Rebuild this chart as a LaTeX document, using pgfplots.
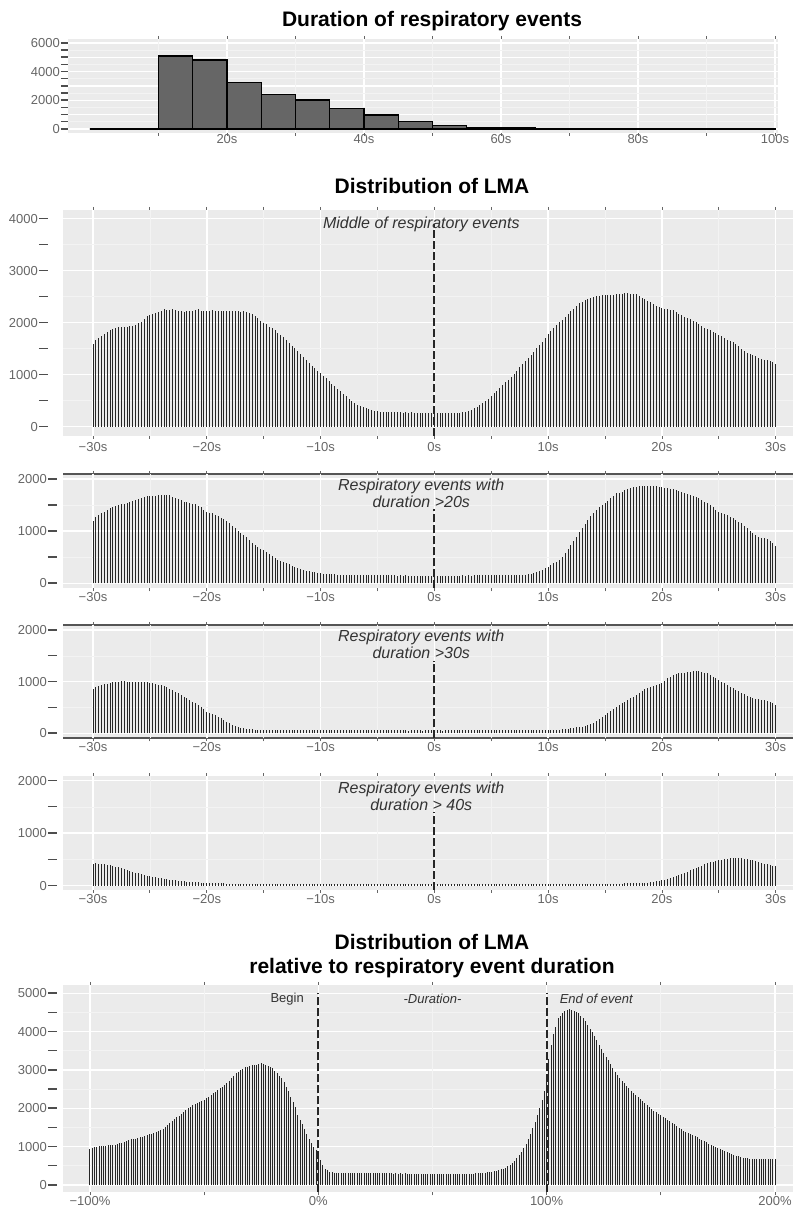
\documentclass[border=0pt]{standalone}
\usepackage{pgfplots}
\pgfplotsset{compat=1.18}
\usepackage{pgfplotstable}
\usepackage{fontspec}
\setmainfont{Liberation Sans}
\definecolor{bgc}{HTML}{EBEBEB}
\definecolor{gridminor}{HTML}{F3F3F3}
\definecolor{tickc}{HTML}{666666}
\definecolor{dashc}{HTML}{4D4D4D}
\definecolor{barc}{HTML}{262626}
\definecolor{histfill}{HTML}{666666}
\definecolor{annc}{HTML}{333333}
\definecolor{framec}{HTML}{555555}
\newcommand\yd[1]{\vphantom{0}\textcolor{dashc}{\rule[3.9pt]{#1}{1.5pt}}}
\newcommand\yl[2]{#2\hspace{1pt}\yd{#1}}

\tikzset{
vdash/.style={draw=black!85, line width=2pt, dash pattern=on 8pt off 3pt},
ann/.style={text=annc, font=\itshape\fontsize{16}{17}\selectfont, align=center},
}
\pgfplotsset{base/.style={
  scale only axis, anchor=south west, clip=false,
  axis background/.style={fill=bgc},
  axis line style={draw=none},
  tick align=outside, major tick length=3pt,
  xtick style={draw=tickc, line width=0.8pt},
  ytick style={draw=none},
  grid=major, major grid style={draw=white, line width=1.5pt},
  extra x tick style={major grid style={draw=gridminor, line width=0.7pt}, xticklabel={}},
  extra y tick style={major grid style={draw=gridminor, line width=0.7pt}},
  ticklabel style={font=\fontsize{13}{15}\selectfont, text=tickc},
  xticklabel style={inner sep=1pt},
  yticklabel style={anchor=east, inner sep=0pt},
},
secx/.style={width=730pt, xmin=-32.637, xmax=31.52,
  xtick={-30,-20,...,30}, xticklabels={−30s,−20s,−10s,0s,10s,20s,30s},
  extra x ticks={-25,-15,-5,5,15,25}, extra x tick labels={}},
small/.style={ytick={0,1000,2000}, yticklabels={\yl{9pt}{0},\yl{9pt}{1000},\yl{9pt}{2000}},
  extra y ticks={500,1500}, extra y tick labels={\yd{9pt},\yd{9pt}},
  yticklabel style={xshift=-3pt}},
comb/.style={ycomb, mark=none, draw=barc, line width=1pt},
toprule/.style={axis background/.style={fill=bgc, path picture={\draw[framec, line width=2.6pt] (path picture bounding box.north west) -- (path picture bounding box.north east);}}},
bothrule/.style={axis background/.style={fill=bgc, path picture={\draw[framec, line width=2.6pt] (path picture bounding box.north west) -- (path picture bounding box.north east); \draw[framec, line width=2.6pt] (path picture bounding box.south west) -- (path picture bounding box.south east);}}},
}

\pgfplotstableread[row sep=\\]{v\\
1590\\1665\\1700\\1745\\1790\\1830\\1860\\1885\\1900\\1915\\1920\\1915\\1925\\1930\\1940\\1955\\1985\\2020\\2080\\2130\\2145\\
2160\\2180\\2205\\2230\\2255\\2250\\2245\\2255\\2240\\2215\\2225\\2200\\2220\\2225\\2220\\2245\\2255\\2215\\2220\\2215\\
2230\\2235\\2225\\2230\\2225\\2225\\2220\\2215\\2225\\2220\\2220\\2210\\2215\\2200\\2185\\2165\\2120\\2085\\2040\\2000\\
1965\\1925\\1890\\1855\\1810\\1765\\1715\\1665\\1610\\1560\\1505\\1450\\1390\\1335\\1275\\1220\\1170\\1120\\1075\\1030\\
980\\930\\880\\830\\780\\730\\680\\630\\585\\540\\500\\460\\425\\395\\370\\350\\335\\320\\305\\295\\
290\\285\\282\\280\\278\\276\\279\\275\\272\\274\\270\\273\\268\\271\\266\\269\\265\\262\\266\\260\\
258\\262\\257\\260\\264\\259\\263\\268\\272\\280\\290\\300\\320\\350\\380\\415\\455\\500\\540\\590\\
640\\690\\745\\800\\850\\900\\960\\1020\\1080\\1140\\1200\\1260\\1320\\1385\\1445\\1510\\1570\\1630\\1700\\1780\\
1840\\1900\\1960\\2010\\2060\\2110\\2165\\2220\\2270\\2330\\2370\\2400\\2430\\2455\\2475\\2490\\2505\\2520\\2530\\2525\\
2535\\2540\\2535\\2545\\2550\\2560\\2570\\2575\\2560\\2545\\2545\\2520\\2480\\2450\\2420\\2390\\2360\\2330\\2300\\2280\\
2270\\2260\\2250\\2240\\2200\\2170\\2140\\2115\\2090\\2070\\2040\\2005\\1975\\1935\\1900\\1870\\1850\\1825\\1800\\1770\\
1735\\1700\\1675\\1650\\1620\\1590\\1545\\1500\\1455\\1420\\1395\\1375\\1360\\1330\\1305\\1290\\1275\\1260\\1240\\1205\\
}\tabAll

\pgfplotstableread[row sep=\\]{v\\
1200\\1265\\1310\\1340\\1373\\1405\\1437\\1465\\1488\\1505\\1520\\1528\\1533\\1560\\1584\\1600\\1616\\1640\\1661\\1672\\1680\\
1682\\1680\\1688\\1693\\1690\\1693\\1685\\1661\\1640\\1610\\1590\\1565\\1555\\1546\\1530\\1514\\1490\\1456\\1415\\1373\\
1355\\1340\\1315\\1290\\1260\\1226\\1190\\1150\\1100\\1054\\1010\\971\\925\\881\\830\\779\\735\\690\\662\\639\\
600\\562\\520\\479\\450\\428\\410\\396\\365\\332\\310\\290\\270\\255\\240\\230\\218\\208\\198\\190\\
185\\180\\176\\172\\170\\168\\166\\165\\162\\163\\160\\161\\158\\160\\157\\159\\156\\158\\155\\157\\
155\\152\\154\\150\\153\\151\\149\\152\\148\\150\\147\\149\\146\\148\\145\\147\\144\\146\\143\\145\\
144\\146\\143\\147\\145\\148\\146\\149\\147\\150\\148\\151\\149\\152\\150\\153\\151\\154\\152\\155\\
153\\156\\154\\157\\155\\158\\156\\159\\158\\160\\163\\165\\170\\182\\198\\220\\240\\262\\290\\320\\
350\\383\\415\\447\\510\\575\\655\\735\\815\\894\\975\\1054\\1134\\1214\\1285\\1354\\1410\\1470\\1505\\1534\\
1580\\1630\\1680\\1725\\1740\\1757\\1780\\1802\\1822\\1840\\1855\\1866\\1870\\1872\\1868\\1866\\1868\\1866\\1855\\1840\\
1830\\1821\\1810\\1802\\1790\\1776\\1758\\1738\\1715\\1693\\1677\\1661\\1630\\1597\\1565\\1534\\1495\\1457\\1415\\1374\\
1350\\1329\\1305\\1278\\1245\\1214\\1180\\1150\\1100\\1054\\1005\\958\\925\\894\\878\\862\\840\\817\\770\\715\\
}\tabTwenty

\pgfplotstableread[row sep=\\]{v\\
852\\904\\923\\936\\949\\965\\981\\988\\994\\1000\\1007\\1004\\1001\\997\\994\\991\\988\\988\\988\\985\\981\\
968\\955\\942\\929\\910\\891\\865\\839\\807\\775\\742\\710\\678\\646\\613\\581\\542\\504\\462\\420\\
398\\375\\349\\323\\290\\258\\226\\194\\170\\149\\130\\110\\94\\78\\78\\75\\72\\70\\68\\66\\
65\\64\\66\\63\\65\\62\\64\\63\\61\\63\\62\\64\\60\\62\\61\\63\\60\\62\\61\\60\\
61\\59\\62\\60\\58\\61\\59\\60\\58\\61\\57\\59\\60\\58\\60\\57\\59\\58\\60\\57\\
58\\56\\59\\57\\55\\58\\56\\57\\55\\58\\54\\57\\56\\55\\57\\54\\56\\55\\57\\54\\
55\\57\\54\\56\\55\\58\\55\\57\\56\\58\\55\\57\\56\\59\\56\\58\\57\\59\\57\\60\\
58\\60\\59\\61\\59\\62\\60\\61\\60\\62\\61\\63\\61\\62\\63\\64\\63\\65\\64\\65\\
66\\68\\70\\74\\78\\83\\90\\97\\105\\114\\122\\129\\145\\162\\178\\194\\232\\271\\313\\355\\
397\\439\\478\\516\\548\\581\\613\\645\\678\\710\\748\\787\\820\\852\\878\\904\\920\\936\\958\\981\\
1023\\1065\\1097\\1129\\1145\\1162\\1168\\1175\\1185\\1194\\1200\\1207\\1200\\1194\\1178\\1162\\1130\\1097\\1065\\1033\\
1000\\968\\936\\904\\872\\839\\813\\787\\755\\723\\700\\678\\668\\659\\652\\645\\630\\613\\580\\549\\
}\tabThirty

\pgfplotstableread[row sep=\\]{v\\
407\\427\\420\\414\\407\\398\\388\\375\\362\\347\\331\\315\\299\\280\\261\\248\\236\\220\\204\\192\\179\\
170\\160\\150\\141\\131\\122\\115\\109\\102\\96\\90\\84\\79\\74\\70\\65\\61\\58\\55\\52\\
50\\48\\46\\44\\43\\42\\41\\40\\40\\39\\38\\38\\37\\37\\36\\36\\35\\36\\35\\34\\
34\\33\\34\\33\\32\\33\\32\\33\\32\\31\\32\\31\\32\\31\\30\\31\\30\\31\\30\\30\\
30\\29\\30\\29\\30\\29\\28\\29\\28\\29\\28\\29\\28\\27\\28\\27\\28\\27\\28\\27\\
27\\26\\27\\26\\27\\26\\27\\26\\25\\26\\25\\26\\25\\26\\25\\26\\25\\26\\25\\25\\
25\\26\\25\\26\\25\\26\\25\\26\\25\\26\\26\\27\\26\\27\\26\\27\\26\\27\\27\\28\\
27\\28\\27\\28\\28\\29\\28\\29\\28\\29\\29\\30\\29\\30\\30\\31\\30\\31\\31\\32\\
31\\32\\32\\33\\32\\33\\33\\34\\33\\34\\34\\35\\35\\36\\35\\36\\36\\37\\37\\38\\
38\\39\\39\\40\\40\\41\\42\\43\\44\\45\\47\\49\\52\\55\\58\\65\\72\\80\\90\\100\\
112\\126\\142\\160\\180\\200\\222\\245\\268\\292\\316\\340\\362\\384\\405\\425\\442\\458\\472\\485\\
495\\505\\512\\518\\522\\524\\522\\518\\512\\505\\495\\483\\468\\452\\436\\420\\405\\392\\380\\368\\
}\tabForty

\pgfplotstableread[row sep=\\]{v\\
939\\975\\990\\1000\\1008\\1017\\1022\\1028\\1035\\1040\\
1043\\1055\\1069\\1085\\1105\\1130\\1150\\1170\\1191\\1196\\
1200\\1220\\1243\\1260\\1278\\1295\\1318\\1340\\1365\\1390\\
1417\\1443\\1469\\1515\\1560\\1608\\1660\\1712\\1765\\1810\\
1852\\1905\\1956\\2000\\2045\\2087\\2115\\2145\\2174\\2195\\
2217\\2260\\2304\\2350\\2390\\2434\\2478\\2520\\2565\\2608\\
2652\\2717\\2782\\2850\\2913\\2955\\3000\\3035\\3070\\3090\\
3113\\3120\\3130\\3143\\3156\\3174\\3156\\3140\\3104\\3075\\
3043\\2980\\2913\\2850\\2782\\2680\\2565\\2440\\2304\\2170\\
2043\\1826\\1700\\1580\\1450\\1330\\1200\\1100\\1000\\920\\
860\\650\\520\\430\\380\\350\\335\\325\\320\\318\\
315\\312\\316\\310\\313\\309\\312\\308\\311\\307\\
310\\306\\309\\305\\308\\304\\307\\303\\306\\302\\
305\\301\\304\\300\\303\\299\\302\\298\\301\\297\\
300\\296\\299\\295\\298\\294\\297\\293\\296\\292\\
295\\291\\294\\290\\293\\289\\292\\288\\291\\287\\
290\\288\\291\\289\\292\\290\\294\\296\\298\\301\\
305\\309\\314\\320\\327\\335\\345\\356\\370\\386\\
405\\428\\455\\488\\528\\575\\630\\695\\770\\860\\
960\\1070\\1190\\1330\\1480\\1650\\1830\\2020\\2220\\2450\\
2800\\3277\\3652\\3950\\4130\\4347\\4420\\4477\\4530\\4565\\
4582\\4570\\4547\\4510\\4477\\4420\\4350\\4270\\4180\\4080\\
3980\\3880\\3770\\3660\\3550\\3450\\3350\\3250\\3150\\3050\\
2960\\2880\\2800\\2720\\2650\\2580\\2520\\2460\\2400\\2340\\
2290\\2240\\2190\\2140\\2090\\2040\\1990\\1940\\1900\\1860\\
1820\\1780\\1740\\1700\\1660\\1620\\1580\\1540\\1500\\1460\\
1420\\1390\\1360\\1330\\1300\\1270\\1240\\1210\\1180\\1150\\
1110\\1080\\1050\\1020\\990\\960\\935\\910\\885\\860\\
840\\810\\785\\765\\745\\730\\715\\705\\695\\690\\
690\\685\\680\\685\\678\\675\\680\\672\\676\\670\\
668\\
}\tabRel

\begin{document}
\begin{tikzpicture}
\useasboundingbox (0pt,0pt) rectangle (793pt,1207pt);

% ---------- titles ----------
\node[font=\bfseries\fontsize{21}{25}\selectfont] at (432pt,1186pt) {Duration of respiratory events};
\node[font=\bfseries\fontsize{21}{25}\selectfont] at (432pt,1021pt) {Distribution of LMA};
\node[font=\bfseries\fontsize{21}{24}\selectfont, align=center] at (432pt,251pt) {Distribution of LMA\\relative to respiratory event duration};

% ---------- panel 1: histogram ----------
\begin{axis}[base, at={(68pt,1074pt)}, width=710pt, height=94pt,
  xmin=-3.21, xmax=100.44, ymin=-279, ymax=6279,
  xtick={20,40,60,80,100}, xticklabels={20s,40s,60s,80s,100s},
  extra x ticks={10,30,50,70,90}, extra x tick labels={},
  ytick={0,1000,...,6000},
  yticklabels={\yl{7pt}{0},\yd{7pt},\yl{7pt}{2000},\yd{7pt},\yl{7pt}{4000},\yd{7pt},\yl{7pt}{6000}},
  extra y ticks={500,1500,2500,3500,4500,5500},
  extra y tick labels={\yd{7pt},\yd{7pt},\yd{7pt},\yd{7pt},\yd{7pt},\yd{7pt}},
  yticklabel style={xshift=3pt}, xticklabel style={yshift=3pt}]
\addplot[ybar interval, fill=histfill, draw=black, line width=1.4pt] coordinates {
 (0,0) (5,0) (10,5100) (15,4810) (20,3250) (25,2400) (30,2020) (35,1420) (40,980)
 (45,540) (50,260) (55,120) (60,90) (65,50) (70,50) (75,22) (80,20) (85,18) (90,15) (95,15) (100,15)};
\end{axis}

% ---------- panel 2: all events ----------
\begin{axis}[base, secx, at={(63pt,771pt)}, height=226pt,
  ymin=-179, ymax=4167,
  ytick={0,1000,...,4000},
  yticklabels={\yl{9pt}{0},\yl{9pt}{1000},\yl{9pt}{2000},\yl{9pt}{3000},\yl{9pt}{4000}},
  extra y ticks={500,1500,2500,3500},
  extra y tick labels={\yd{9pt},\yd{9pt},\yd{9pt},\yd{9pt}},
  yticklabel style={xshift=-12pt}, xticklabel style={yshift=-2pt}]
\addplot[comb] table[x expr=\coordindex*0.25-30, y index=0] {\tabAll};
\draw[vdash] (axis cs:0,-179) -- (axis cs:0,3900);
\node[ann] at (axis cs:-1.15,3898) {Middle of respiratory events};
\end{axis}

% ---------- panel 3: > 20 s ----------
\begin{axis}[base, secx, small, toprule, at={(63pt,618.5pt)}, height=114.7pt,
  ymin=-100, ymax=2100]
\addplot[comb] table[x expr=\coordindex*0.25-30, y index=0] {\tabTwenty};
\draw[vdash] (axis cs:0,-100) -- (axis cs:0,1420);
\node[ann] at (axis cs:-1.15,1722) {Respiratory events with\\duration >20s};
\end{axis}

% ---------- panel 4: > 30 s ----------
\begin{axis}[base, secx, small, bothrule, at={(63pt,468.5pt)}, height=113.6pt,
  ymin=-100, ymax=2100]
\addplot[comb] table[x expr=\coordindex*0.25-30, y index=0] {\tabThirty};
\draw[vdash] (axis cs:0,-100) -- (axis cs:0,1400);
\node[ann] at (axis cs:-1.15,1719) {Respiratory events with\\duration >30s};
\end{axis}

% ---------- panel 5: > 40 s ----------
\begin{axis}[base, secx, small, at={(63pt,317.1pt)}, height=113.7pt,
  ymin=-80, ymax=2085]
\addplot[comb] table[x expr=\coordindex*0.25-30, y index=0] {\tabForty};
\draw[vdash] (axis cs:0,-80) -- (axis cs:0,1400);
\node[ann] at (axis cs:-1.15,1709) {Respiratory events with\\duration > 40s};
\end{axis}

% ---------- panel 6: relative ----------
\begin{axis}[base, at={(63pt,14.7pt)}, width=730pt, height=207.4pt,
  xmin=-111.8, xmax=207.9, ymin=-190, ymax=5220,
  xtick={-100,0,100,200}, xticklabels={−100\%,0\%,100\%,200\%},
  extra x ticks={-50,50,150}, extra x tick labels={},
  ytick={0,1000,...,5000},
  yticklabels={\yl{9pt}{0},\yl{9pt}{1000},\yl{9pt}{2000},\yl{9pt}{3000},\yl{9pt}{4000},\yl{9pt}{5000}},
  extra y ticks={500,1500,2500,3500,4500},
  extra y tick labels={\yd{9pt},\yd{9pt},\yd{9pt},\yd{9pt},\yd{9pt}},
  yticklabel style={xshift=-3pt}]
\addplot[comb, line width=0.9pt] table[x expr=\coordindex-100, y index=0] {\tabRel};
\draw[vdash] (axis cs:0,-190) -- (axis cs:0,5000);
\draw[vdash] (axis cs:100,-190) -- (axis cs:100,5000);
\node[anchor=east, text=annc, font=\fontsize{13}{15}\selectfont] at (axis cs:-4.8,4851) {Begin};
\node[text=annc, font=\itshape\fontsize{13}{15}\selectfont] at (axis cs:50,4851) {-Duration-};
\node[anchor=west, text=annc, font=\itshape\fontsize{13}{15}\selectfont] at (axis cs:104.2,4851) {End of event};
\end{axis}
\end{tikzpicture}
\end{document}
